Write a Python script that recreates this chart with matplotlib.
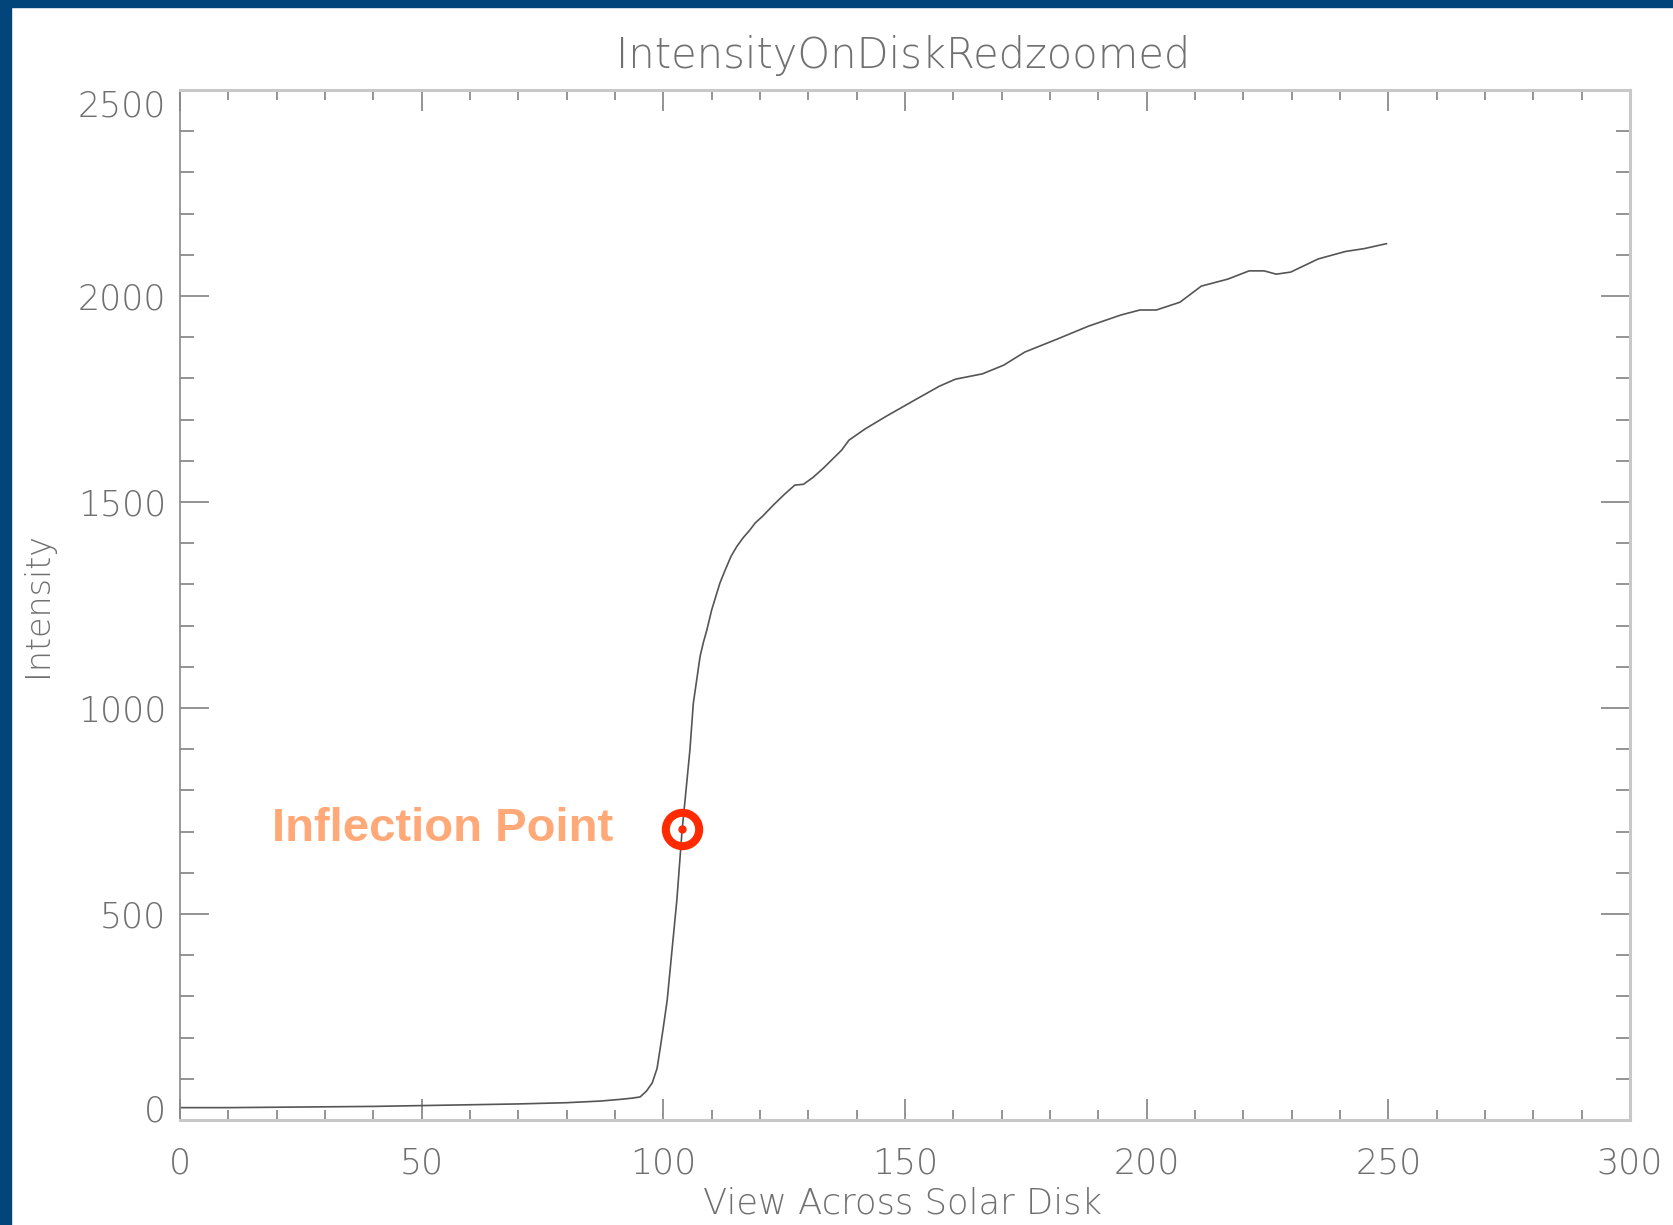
import matplotlib
matplotlib.use("Agg")
from matplotlib import pyplot as plt
from matplotlib.patches import Rectangle
from matplotlib.ticker import MultipleLocator
from matplotlib.transforms import ScaledTranslation

# Data
position = [0, 10, 20, 30, 40, 50, 60, 70, 80, 87, 91, 93.5, 95.2, 96.5, 97.7,
            98.7, 99.3, 100.0, 100.8, 101.8, 102.8, 103.9, 104.5, 105.5, 106.2,
            107.6, 108.3, 109.0, 110.0, 111.7, 112.8, 114.0, 115.2, 116.5, 117.9,
            119.0, 120.5, 122.8, 125, 127.2, 129.0, 131, 133.1, 136.9, 138.4,
            141.7, 146.1, 152.7, 157.1, 160.4, 166, 170.4, 174.8, 181.4, 188,
            194.7, 198.6, 202, 206.9, 211.3, 216.8, 221.2, 224.3, 226.8, 229.8,
            235.5, 241.1, 245, 249.6]
intensity = [30, 30, 31, 32, 33, 35, 37, 39, 42, 46, 50, 53, 56, 70, 90,
             125, 170, 225, 291, 413, 534, 706, 777, 898, 1011,
             1125, 1160, 1189, 1238, 1303, 1335, 1368, 1392, 1413, 1432,
             1449, 1465, 1493, 1518, 1541, 1543, 1560, 1582, 1626, 1650,
             1677, 1708, 1752, 1781, 1798, 1811, 1832, 1864, 1895, 1927,
             1954, 1966, 1966, 1985, 2024, 2041, 2061, 2061, 2053, 2058,
             2090, 2108, 2115, 2127]

inflection_x = [103.9]
inflection_y = [706]
inflection_label = "Inflection Point"

xticks = [0, 50, 100, 150, 200, 250, 300]
yticks = [0, 500, 1000, 1500, 2000, 2500]

title = "IntensityOnDiskRedzoomed"
xlabel = "View Across Solar Disk"
ylabel = "Intensity"

W, H = 1674, 1225
TEXT_GRAY = "#707070"
FONT = dict(family="DejaVu Sans", weight="light", color=TEXT_GRAY)

fig = plt.figure(figsize=(W / 100, H / 100), dpi=100, facecolor="white")

# dark blue frame on top and left edges
blue = "#02457a"
fig.add_artist(Rectangle((0, 1 - 7 / H), 1, 7 / H, transform=fig.transFigure,
                         color=blue, zorder=10))
fig.add_artist(Rectangle((0, 0), 11 / W, 1, transform=fig.transFigure,
                         color=blue, zorder=10))

ax = fig.add_axes([180 / W, 105 / H, 1450 / W, 1030 / H])

ax.plot(position, intensity, color="#555555", lw=1.2)

# inflection marker
ax.plot(inflection_x, inflection_y, marker="o", ms=24, mfc="none",
        mec="#ff2a00", mew=5.8, ls="none", zorder=5)
ax.plot(inflection_x, inflection_y, marker="o", ms=5, color="#ff2a00",
        ls="none", zorder=6)
ax.text(89.6, inflection_y[0], inflection_label, ha="right", va="center",
        family="Liberation Sans", weight="bold", fontsize=34, color="#ffa978")

ax.set_xlim(xticks[0], xticks[-1])
ax.set_ylim(yticks[0], yticks[-1])
ax.set_xticks(xticks)
ax.set_yticks(yticks)
ax.xaxis.set_minor_locator(MultipleLocator(10))
ax.yaxis.set_minor_locator(MultipleLocator(100))

ax.tick_params(axis="both", which="both", direction="in", top=True, right=True,
               colors="#777777", labelcolor=TEXT_GRAY, width=1.1)
ax.tick_params(axis="x", which="major", length=15, pad=19, labelsize=25)
ax.tick_params(axis="x", which="minor", length=7.2)
ax.tick_params(axis="y", which="major", length=21, pad=10, labelsize=25)
ax.tick_params(axis="y", which="minor", length=10)

for lbl in ax.get_xticklabels() + ax.get_yticklabels():
    lbl.set_fontweight("light")

# the end labels on y are nudged inside the frame in the reference
for tick in ax.yaxis.get_major_ticks():
    if tick.get_loc() == yticks[0]:
        dy = 12
    elif tick.get_loc() == yticks[-1]:
        dy = -13
    else:
        continue
    tick.label1.set_transform(tick.label1.get_transform()
                              + ScaledTranslation(0, dy / 100, fig.dpi_scale_trans))

for side in ["top", "right", "bottom"]:
    ax.spines[side].set_color("#c8c8c8")
    ax.spines[side].set_linewidth(2.2)
ax.spines["left"].set_color("#888888")
ax.spines["left"].set_linewidth(1.2)

fig.text(903 / W, 1 - 55 / H, title, ha="center", va="center", fontsize=30, **FONT)
fig.text(903 / W, 1 - 1204 / H, xlabel, ha="center", va="center", fontsize=25.5, **FONT)
fig.text(37 / W, 1 - 605 / H, ylabel, ha="center", va="center", rotation=90,
         fontsize=24, **FONT)

fig.savefig("out.png", dpi=100, facecolor="white")
